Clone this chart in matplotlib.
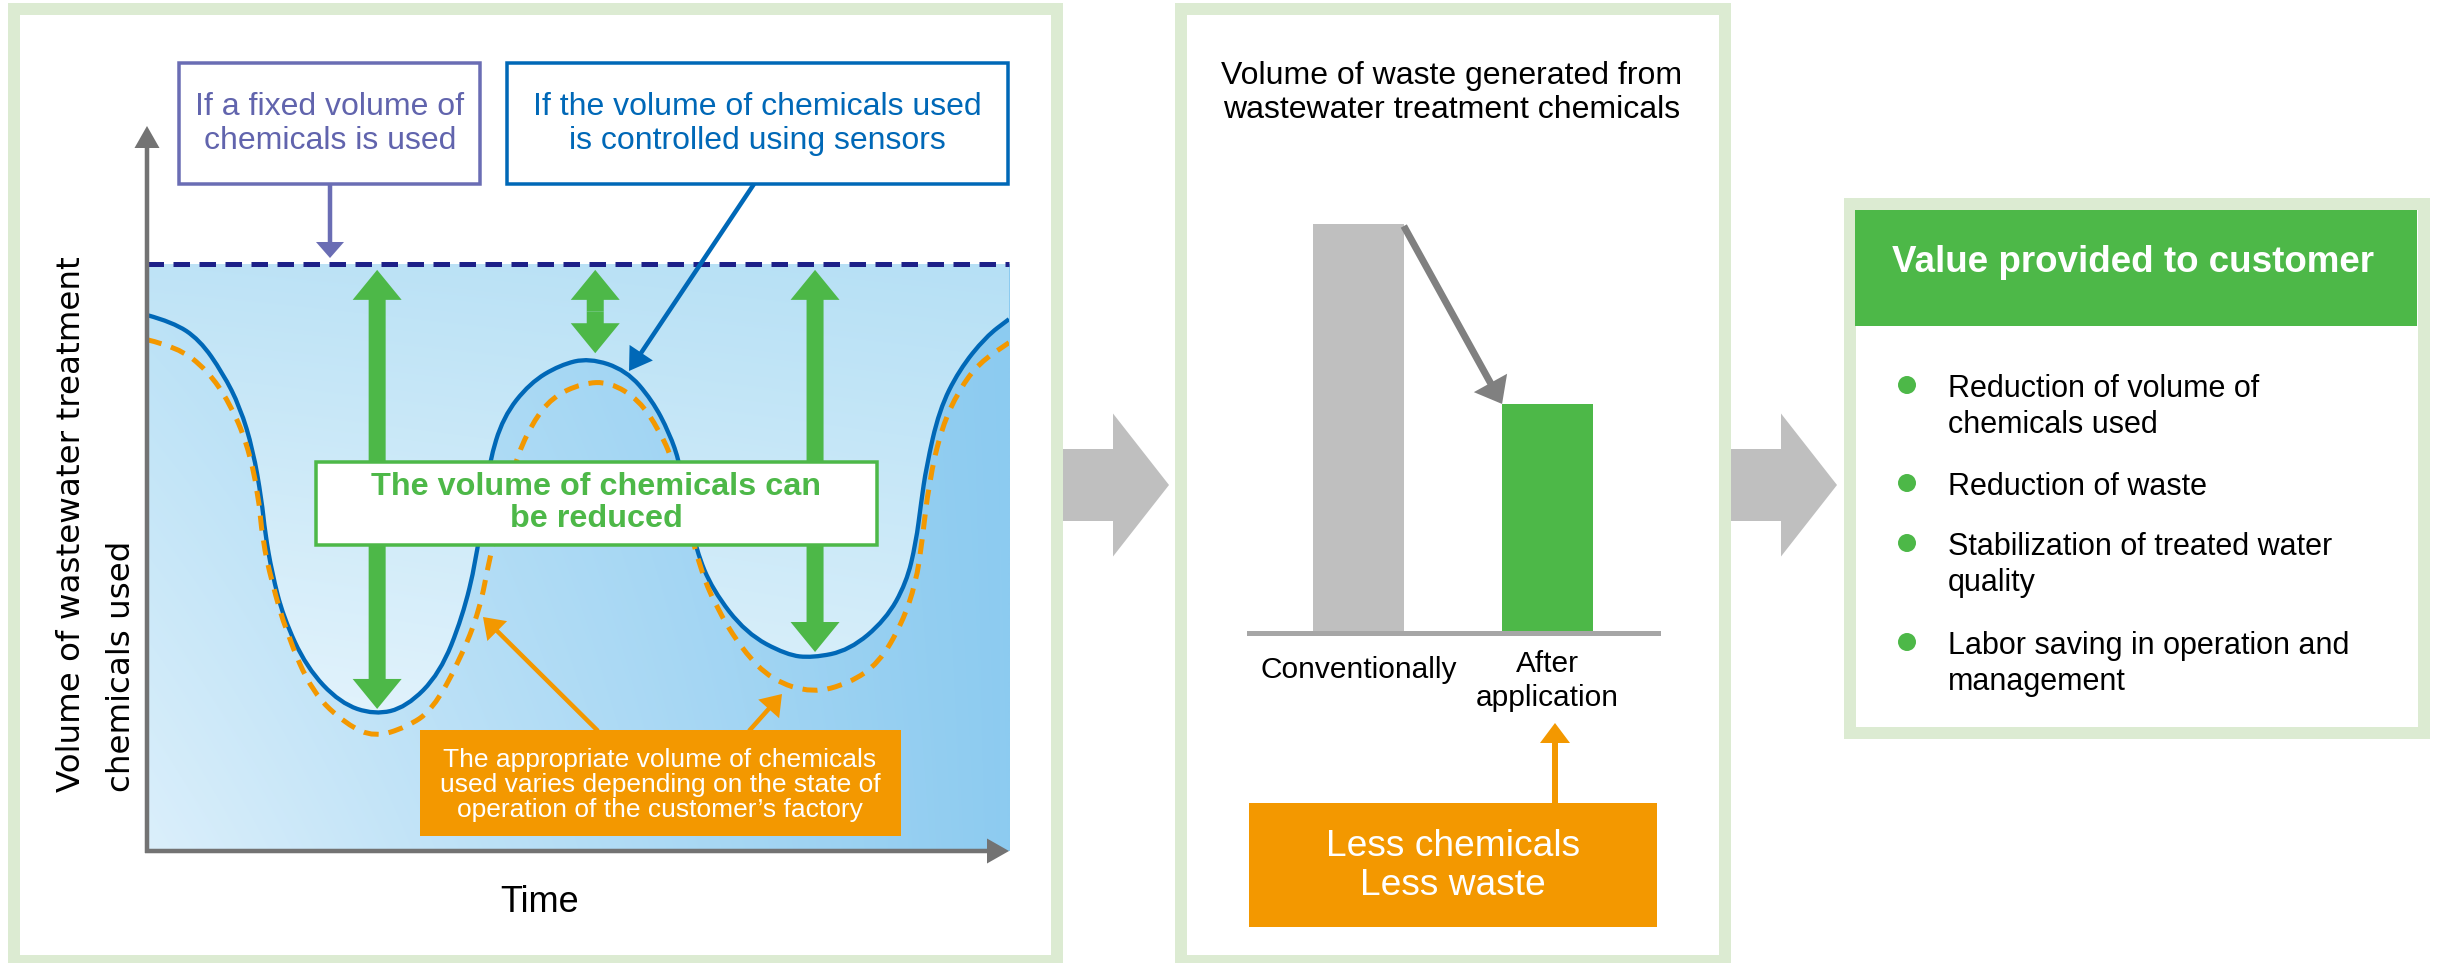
import numpy as np
import matplotlib.pyplot as plt
import matplotlib.colors as mcolors
from matplotlib.patches import Rectangle, Circle, FancyArrowPatch, PathPatch
from matplotlib.path import Path

plt.rcParams['font.family'] = ['Liberation Sans', 'DejaVu Sans']

W, H = 2438, 963

# left chart: time 0-10, chemical volume (fixed dose = 100)
fixed_level = 100
sensor_t = [0.0, 0.30, 0.61, 0.88, 1.08, 1.23, 1.33, 1.37, 1.45, 1.58, 1.85, 2.24, 2.64,
            3.01, 3.40, 3.66, 3.82, 3.89, 3.97, 4.13, 4.44, 4.79, 5.13, 5.56, 5.86, 6.06,
            6.18, 6.27, 6.37, 6.56, 6.95, 7.42, 7.72, 8.15, 8.57, 8.81, 8.92, 8.98, 9.04,
            9.19, 9.42, 9.73, 10.0]
sensor_v = [91.3, 90.1, 87.1, 81.4, 75.6, 68.3, 59.8, 54.2, 47.4, 39.9, 31.3, 25.2, 23.2,
            24.5, 30.3, 39.9, 49.6, 58.1, 66.1, 73.9, 79.7, 82.8, 84.0, 81.9, 76.8, 71.2,
            66.1, 58.9, 51.3, 44.5, 37.1, 33.4, 32.9, 34.2, 39.4, 45.7, 52.5, 59.3, 65.4,
            75.1, 81.9, 87.6, 90.6]
needed_t = [0.0, 0.35, 0.70, 0.96, 1.16, 1.29, 1.34, 1.45, 1.62, 1.92, 2.32, 2.64, 3.01,
            3.31, 3.63, 3.86, 3.97, 4.11, 4.29, 4.47, 4.70, 5.05, 5.37, 5.71, 5.94, 6.10,
            6.26, 6.41, 6.60, 6.91, 7.25, 7.72, 8.15, 8.49, 8.76, 8.92, 8.99, 9.07, 9.22,
            9.42, 9.65, 10.0]
needed_v = [87.1, 85.9, 81.9, 76.3, 69.5, 61.0, 53.0, 45.7, 37.1, 26.9, 21.5, 19.4, 21.1,
            24.0, 32.5, 41.1, 49.6, 58.1, 67.1, 72.9, 77.3, 79.7, 79.9, 76.8, 71.7, 66.6,
            57.2, 48.4, 41.6, 34.2, 29.1, 26.9, 28.6, 32.0, 38.8, 45.7, 52.5, 62.7, 72.2,
            78.5, 83.1, 86.6]
reduce_t = [2.67, 5.20, 7.75]
reduce_low = [24.2, 84.8, 33.9]

# middle chart
bar_labels = ['Conventionally', 'After\napplication']
bar_values = [100, 56]

benefits = ['Reduction of volume of\nchemicals used', 'Reduction of waste',
            'Stabilization of treated water\nquality', 'Labor saving in operation and\nmanagement']

green = '#4db848'
orange = '#f39800'
blue = '#0068b7'
navy = '#1d2088'
purple = '#6a6db4'
border = '#dcebd2'


def pt(px):
    return px * 72 / 100


def arrow(ax, p0, p1, tail, hw, hl, color, z=3):
    style = 'simple,tail_width=%g,head_width=%g,head_length=%g' % (pt(tail), pt(hw), pt(hl))
    ax.add_patch(FancyArrowPatch(p0, p1, arrowstyle=style, mutation_scale=1, fc=color,
                                 ec='none', lw=0, shrinkA=0, shrinkB=0, zorder=z))


def grad(tl, tr, bl, br, n=200):
    c = [np.array(mcolors.to_rgb(x)) for x in (tl, tr, bl, br)]
    u = np.linspace(0, 1, n)[None, :, None]
    v = np.linspace(0, 1, n)[:, None, None]
    top = c[0] * (1 - u) + c[1] * u
    bot = c[2] * (1 - u) + c[3] * u
    return bot * (1 - v) + top * v


def smooth(t, v):
    # rounded drawing of the read points (quadratic segments through the midpoints)
    p = np.column_stack([t, v])
    verts, codes = [p[0]], [Path.MOVETO]
    for i in range(1, len(p) - 1):
        verts += [p[i], (p[i] + p[i + 1]) / 2]
        codes += [Path.CURVE3, Path.CURVE3]
    verts.append(p[-1])
    codes.append(Path.LINETO)
    return verts, codes


fig = plt.figure(figsize=(W / 100, H / 100), dpi=100)

# ---- curve chart
axc = fig.add_axes([147 / W, 1 - 851 / H, 862 / W, 587 / H])
axc.imshow(grad('#b9e1f6', '#8ccbf0', '#dbeffb', '#8dcbf0'), extent=(0, 10, 0, 100),
           origin='lower', aspect='auto', interpolation='bilinear', zorder=0)
top_img = axc.imshow(grad('#bee3f6', '#b6e0f5', '#f0f9fe', '#e2f3fc'), extent=(0, 10, 0, 100),
                     origin='lower', aspect='auto', interpolation='bilinear', zorder=1)
sv, sc = smooth(sensor_t, sensor_v)
clip = PathPatch(Path(sv + [(10, 100), (0, 100), (0, 100)],
                      sc + [Path.LINETO, Path.LINETO, Path.CLOSEPOLY]),
                 transform=axc.transData)
top_img.set_clip_path(clip)
axc.add_patch(PathPatch(Path(sv, sc), fill=False, ec=blue, lw=pt(4.3), zorder=3))
nv, nc = smooth(needed_t, needed_v)
axc.add_patch(PathPatch(Path(nv, nc), fill=False, ec=orange, lw=pt(5), ls=(0, (3, 2)),
                        zorder=3))
axc.axhline(fixed_level, color=navy, lw=pt(5), ls=(0, (3.3, 1.9)), clip_on=False, zorder=4)
for t, low in zip(reduce_t, reduce_low):
    mid = (99 + low) / 2
    arrow(axc, (t, mid), (t, 99), 17, 49, 30, green)
    arrow(axc, (t, mid), (t, low), 17, 49, 30, green)
axc.set_xlim(0, 10)
axc.set_ylim(0, 100)
axc.set_axis_off()

# ---- bar chart
axb = fig.add_axes([1249 / W, 1 - 633 / H, 409 / W, 409 / H])
axb.bar(range(2), bar_values, width=0.48, color=['#bfbfbf', green], zorder=2)
axb.axhline(0, color='#a6a6a6', lw=pt(5), clip_on=False, zorder=3)
arrow(axb, (0.24, 99.5), (0.76, bar_values[1]), 7, 38, 24, '#808080')
for i, (lab, off) in enumerate(zip(bar_labels, [37, 48])):
    axb.annotate(lab, xy=(i, 0), xycoords=('data', 'axes fraction'),
                 xytext=(0, -pt(off)), textcoords='offset points',
                 ha='center', va='center', fontsize=21.5, linespacing=1.25)
axb.set_xlim(-0.579, 1.585)
axb.set_ylim(0, 100)
axb.set_axis_off()

# ---- overlay
ax = fig.add_axes([0, 0, 1, 1], zorder=5)
ax.set_xlim(0, W)
ax.set_ylim(H, 0)
ax.set_axis_off()
ax.patch.set_visible(False)

ax.add_patch(Rectangle((14, 9), 1043, 952, fill=False, ec=border, lw=pt(12)))
ax.add_patch(Rectangle((1181, 9), 544, 952, fill=False, ec=border, lw=pt(12)))
ax.add_patch(Rectangle((1849.5, 204), 574, 529.5, fill=False, ec=border, lw=pt(12)))

arrow(ax, (1063, 485), (1169, 485), 72, 143, 56, '#bfbfbf')
arrow(ax, (1731, 485), (1837, 485), 72, 143, 56, '#bfbfbf')

# axes arrows and titles
arrow(ax, (147, 853), (147, 126), 4.5, 25, 22, '#737373')
arrow(ax, (145, 851), (1009, 851), 4.5, 25, 22, '#737373')
ax.text(72, 792, 'Volume of wastewater treatment', rotation=90, ha='center', va='bottom',
        fontsize=23.4, family='DejaVu Sans')
ax.text(121, 792, 'chemicals used', rotation=90, ha='center', va='bottom',
        fontsize=23.4, family='DejaVu Sans')
ax.text(540, 902, 'Time', ha='center', va='center', fontsize=26)

# callout boxes
ax.add_patch(Rectangle((179, 63), 301, 121, fc='white', ec=purple, lw=pt(3.5)))
ax.text(330, 124, 'If a fixed volume of\nchemicals is used', ha='center', va='center',
        fontsize=23, color='#6164ad')
arrow(ax, (330, 184), (330, 258), 4.5, 28, 16, purple)

ax.add_patch(Rectangle((507, 63), 501, 121, fc='white', ec=blue, lw=pt(3.5)))
ax.text(757, 124, 'If the volume of chemicals used\nis controlled using sensors',
        ha='center', va='center', fontsize=23, color=blue)
arrow(ax, (754, 184), (629, 371), 4.5, 28, 22, blue)

ax.add_patch(Rectangle((316, 462), 561, 83, fc='white', ec=green, lw=pt(3.5)))
ax.text(596, 503, 'The volume of chemicals can\nbe reduced', ha='center', va='center',
        fontsize=23.3, fontweight='bold', color=green, linespacing=1.1)

ax.add_patch(Rectangle((420, 730), 481, 106, fc=orange, ec='none'))
ax.text(660, 785, 'The appropriate volume of chemicals\nused varies depending on the state of\n'
        'operation of the customer\u2019s factory', ha='center', va='center',
        fontsize=19, color='white', linespacing=1.03)
arrow(ax, (598, 731), (483, 617), 4.5, 28, 20, orange)
arrow(ax, (749, 731), (782, 694), 4.5, 28, 20, orange)

# middle panel
ax.text(1452, 93, 'Volume of waste generated from\nwastewater treatment chemicals',
        ha='center', va='center', fontsize=23, linespacing=1.15)
ax.add_patch(Rectangle((1249, 803), 408, 124, fc=orange, ec='none'))
ax.text(1453, 866, 'Less chemicals\nLess waste', ha='center', va='center',
        fontsize=26.7, color='white', linespacing=1.15)
arrow(ax, (1555, 803), (1555, 723), 6, 30, 20, orange)

# right panel
ax.add_patch(Rectangle((1855, 210), 562, 116, fc=green, ec='none'))
ax.text(2133, 262, 'Value provided to customer', ha='center', va='center',
        fontsize=26.5, fontweight='bold', color='white')
bullet_y = [385, 483, 543, 642]
for y, txt in zip(bullet_y, benefits):
    ax.add_patch(Circle((1907, y), 9, fc=green, ec='none'))
    ax.text(1948, y - 11, txt, ha='left', va='top', fontsize=22, linespacing=1.25)

fig.savefig('out.png', dpi=100)
